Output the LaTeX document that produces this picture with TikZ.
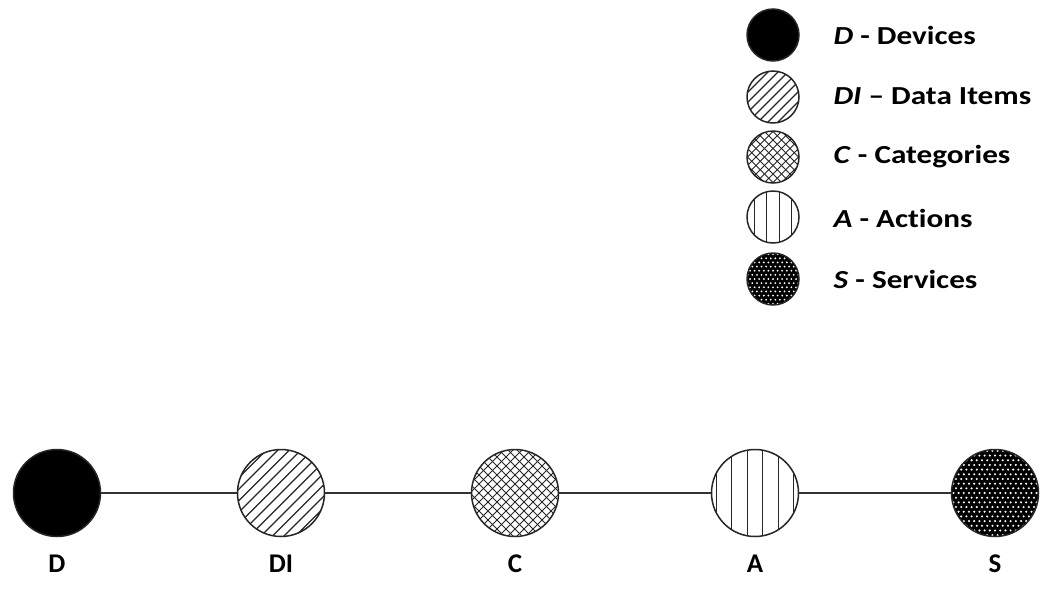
\documentclass[tikz,border=0pt]{standalone}
\usepackage{fontspec}
\usepackage{graphicx}
\setmainfont{Carlito}[Ligatures=NoCommon]
\newcommand{\legtext}[1]{\scalebox{1.2}[1]{#1}}
\begin{document}
\begin{tikzpicture}[x=1pt,y=-1pt,
  hatch/.style={draw=black!85,line width=1.1pt},
  ent/.style={circle,draw=black!85,line width=1.5pt,inner sep=0pt,fill=white},
  big/.style={minimum size=87pt},
  small/.style={minimum size=52pt},
  diaghatch/.style={path picture={
    \foreach \k in {-12,...,12}
      \draw[hatch] ([xshift=\k*#1 pt]path picture bounding box.center) ++(-70pt,-70pt) -- ++(140pt,140pt);}},
  crosshatch/.style={path picture={
    \foreach \k in {-14,...,14}{
      \draw[hatch,line width=0.9pt] ([xshift=\k*#1 pt]path picture bounding box.center) ++(-70pt,-70pt) -- ++(140pt,140pt);
      \draw[hatch,line width=0.9pt] ([xshift=\k*#1 pt]path picture bounding box.center) ++(-70pt,70pt) -- ++(140pt,-140pt);}}},
  vhatch/.style={path picture={
    \foreach \k in {-4,...,4}
      \draw[hatch] ([xshift=\k*#1 pt+0.5*#1 pt]path picture bounding box.center) ++(0pt,-60pt) -- ++(0pt,120pt);}},
  dotted fill/.style={fill=black,path picture={
    \foreach \i in {-10,...,10}
      \foreach \j in {-10,...,10}{
        \pgfmathsetmacro{\dotoff}{0.5*#1*mod(abs(\j),2)}
        \fill[white] ([xshift={\i*#1 pt+\dotoff pt},yshift={\j*0.9*#1 pt}]path picture bounding box.center) circle[radius=0.22*#1 pt];}}},
  lbl/.style={font=\bfseries\fontsize{27}{30}\selectfont},
  leg/.style={font=\bfseries\fontsize{26}{30}\selectfont,anchor=west}
]
\useasboundingbox (0,0) rectangle (1040,592);

% chain of entity types
\node[ent,big,fill=black] (D) at (57,493) {};
\node[ent,big,diaghatch=11.5] (DI) at (281,493) {};
\node[ent,big,crosshatch=9] (C) at (515,493) {};
\node[ent,big,vhatch=15.5] (A) at (755,493) {};
\node[ent,big,dotted fill=5.2] (S) at (995,493) {};

\draw[black!80,line width=1.2pt] (D) -- (DI) -- (C) -- (A) -- (S);

\node[lbl] (lD) at (57,564) {D};
\node[lbl] (lDI) at (281,564) {DI};
\node[lbl] (lC) at (515,564) {C};
\node[lbl] (lA) at (755,564) {A};
\node[lbl] (lS) at (995,564) {S};

% legend
\node[ent,small,fill=black] (kD) at (773,35) {};
\node[ent,small,diaghatch=10] (kDI) at (773,97) {};
\node[ent,small,crosshatch=8.5] (kC) at (773,157) {};
\node[ent,small,vhatch=12.5] (kA) at (773,217) {};
\node[ent,small,dotted fill=4.6] (kS) at (773,279) {};

\node[leg] (tD) at (830,35) {\legtext{\textit{D} - Devices}};
\node[leg] (tDI) at (830,96) {\legtext{\textit{DI} – Data Items}};
\node[leg] (tC) at (830,157) {\legtext{\textit{C} - Categories}};
\node[leg] (tA) at (830,218) {\legtext{\textit{A} - Actions}};
\node[leg] (tS) at (830,279) {\legtext{\textit{S} - Services}};
\end{tikzpicture}
\end{document}
